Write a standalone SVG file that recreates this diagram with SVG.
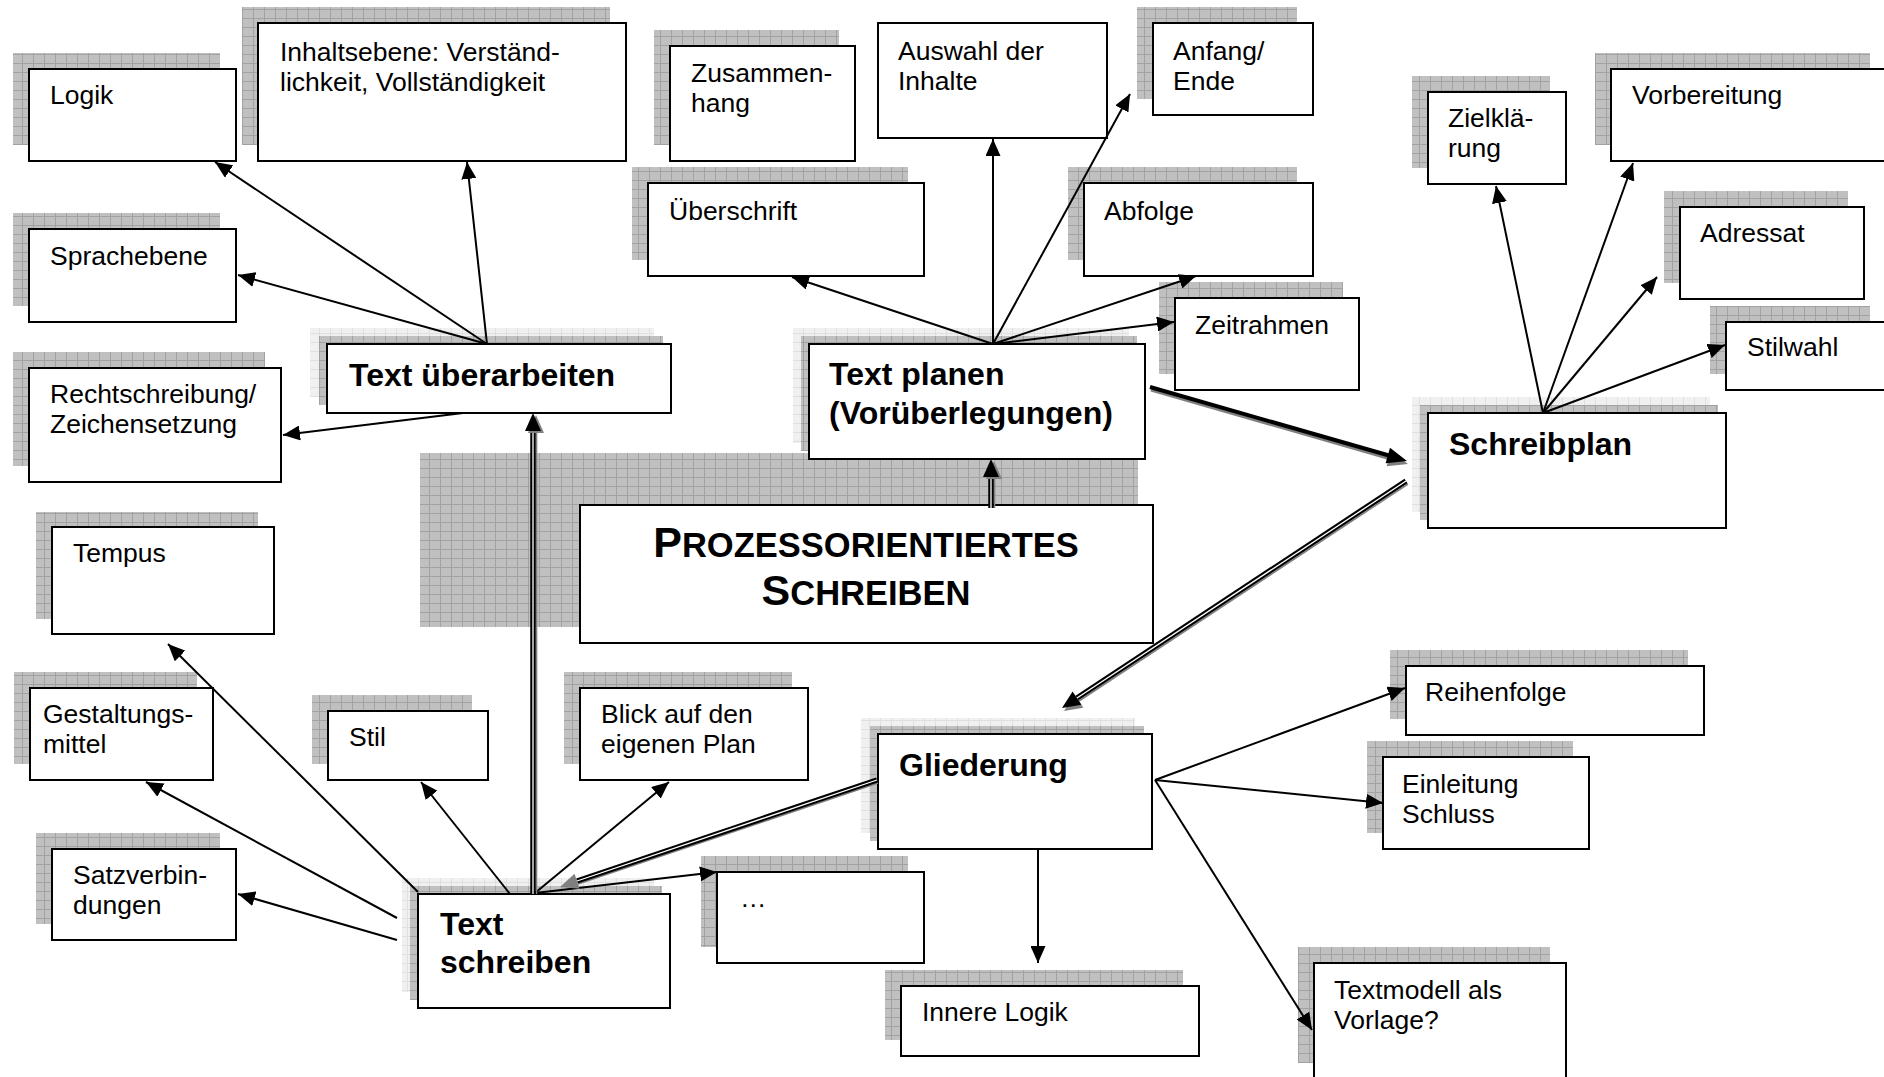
<svg xmlns="http://www.w3.org/2000/svg" width="1884" height="1077" viewBox="0 0 1884 1077">
<defs>
<pattern id="grid" width="11" height="9" patternUnits="userSpaceOnUse">
<rect width="11" height="9" fill="#c0c0c0"/>
<path d="M0 0.5H11M0.5 0V9" stroke="#a2a2a2" stroke-width="1" fill="none"/>
</pattern>
<pattern id="gridL" width="11" height="9" patternUnits="userSpaceOnUse">
<rect width="11" height="9" fill="#f0f0f0"/>
<path d="M0 0.5H11M0.5 0V9" stroke="#e0e0e0" stroke-width="1" fill="none"/>
</pattern>
<marker id="arr" markerUnits="userSpaceOnUse" markerWidth="18" markerHeight="15" refX="17" refY="7.5" orient="auto">
<path d="M0,0 L17,7.5 L0,15 Z" fill="#000"/>
</marker>
</defs>
<style>
.sh{fill:url(#grid)}
.shl{fill:url(#gridL)}
.box{fill:#fff;stroke:#000;stroke-width:2}
.t{font-family:"Liberation Sans",Arial,sans-serif;font-size:26.5px;fill:#000}
.b{font-weight:bold;font-size:32px}
.c{stroke:#000;stroke-width:2;fill:none;marker-end:url(#arr)}
.dg{stroke:#808080;stroke-width:1.6;fill:none}
.dk{stroke:#000;stroke-width:5.5;fill:none}
.dw{stroke:#fff;stroke-width:1.3;fill:none}
</style>
<rect width="1884" height="1077" fill="#fff"/>

<g id="n-prozess">
<rect class="sh" x="420" y="453" width="718" height="174"/>
<rect class="box" x="580" y="505" width="573" height="138"/>
<text class="t b" text-anchor="middle" x="866" y="557"><tspan font-size="43">P</tspan><tspan font-size="34.5">ROZESSORIENTIERTES</tspan></text>
<text class="t b" text-anchor="middle" x="866" y="605"><tspan font-size="43">S</tspan><tspan font-size="34.5">CHREIBEN</tspan></text>
</g>

<g id="n-logik"><rect class="sh" x="13" y="53" width="207" height="92"/><rect class="box" x="29" y="69" width="207" height="92"/><text class="t" x="50" y="104">Logik</text></g>
<g id="n-inhalt"><rect class="sh" x="242" y="7" width="368" height="138"/><rect class="box" x="258" y="23" width="368" height="138"/><text class="t" x="280" y="61">Inhaltsebene: Verständ-</text><text class="t" x="280" y="91">lichkeit, Vollständigkeit</text></g>
<g id="n-sprache"><rect class="sh" x="13" y="213" width="207" height="93"/><rect class="box" x="29" y="229" width="207" height="93"/><text class="t" x="50" y="265">Sprachebene</text></g>
<g id="n-recht"><rect class="sh" x="13" y="352" width="252" height="114"/><rect class="box" x="29" y="368" width="252" height="114"/><text class="t" x="50" y="403">Rechtschreibung/</text><text class="t" x="50" y="433">Zeichensetzung</text></g>
<g id="n-zusammen"><rect class="sh" x="654" y="30" width="185" height="115"/><rect class="box" x="670" y="46" width="185" height="115"/><text class="t" x="691" y="82">Zusammen-</text><text class="t" x="691" y="112">hang</text></g>
<g id="n-auswahl"><rect class="box" x="878" y="23" width="229" height="115"/><text class="t" x="898" y="60">Auswahl der</text><text class="t" x="898" y="90">Inhalte</text></g>
<g id="n-anfang"><rect class="sh" x="1137" y="7" width="160" height="92"/><rect class="box" x="1153" y="23" width="160" height="92"/><text class="t" x="1173" y="60">Anfang/</text><text class="t" x="1173" y="90">Ende</text></g>
<g id="n-ueberschrift"><rect class="sh" x="632" y="167" width="276" height="93"/><rect class="box" x="648" y="183" width="276" height="93"/><text class="t" x="669" y="220">Überschrift</text></g>
<g id="n-abfolge"><rect class="sh" x="1068" y="167" width="229" height="93"/><rect class="box" x="1084" y="183" width="229" height="93"/><text class="t" x="1104" y="220">Abfolge</text></g>
<g id="n-zeit"><rect class="sh" x="1159" y="282" width="184" height="92"/><rect class="box" x="1175" y="298" width="184" height="92"/><text class="t" x="1195" y="334">Zeitrahmen</text></g>
<g id="n-ziel"><rect class="sh" x="1412" y="76" width="138" height="92"/><rect class="box" x="1428" y="92" width="138" height="92"/><text class="t" x="1448" y="127">Zielklä-</text><text class="t" x="1448" y="157">rung</text></g>
<g id="n-vorb"><rect class="sh" x="1595" y="53" width="275" height="92"/><rect class="box" x="1611" y="69" width="275" height="92"/><text class="t" x="1632" y="104">Vorbereitung</text></g>
<g id="n-adressat"><rect class="sh" x="1664" y="191" width="184" height="92"/><rect class="box" x="1680" y="207" width="184" height="92"/><text class="t" x="1700" y="242">Adressat</text></g>
<g id="n-stilwahl"><rect class="sh" x="1710" y="306" width="160" height="68"/><rect class="box" x="1726" y="322" width="160" height="68"/><text class="t" x="1747" y="356">Stilwahl</text></g>
<g id="n-tempus"><rect class="sh" x="36" y="512" width="222" height="107"/><rect class="box" x="52" y="527" width="222" height="107"/><text class="t" x="73" y="562">Tempus</text></g>
<g id="n-gestalt"><rect class="sh" x="14" y="672" width="183" height="92"/><rect class="box" x="30" y="688" width="183" height="92"/><text class="t" x="43" y="723">Gestaltungs-</text><text class="t" x="43" y="753">mittel</text></g>
<g id="n-stil"><rect class="sh" x="312" y="695" width="160" height="69"/><rect class="box" x="328" y="711" width="160" height="69"/><text class="t" x="349" y="746">Stil</text></g>
<g id="n-blick"><rect class="sh" x="564" y="672" width="228" height="92"/><rect class="box" x="580" y="688" width="228" height="92"/><text class="t" x="601" y="723">Blick auf den</text><text class="t" x="601" y="753">eigenen Plan</text></g>
<g id="n-satz"><rect class="sh" x="36" y="833" width="184" height="91"/><rect class="box" x="52" y="849" width="184" height="91"/><text class="t" x="73" y="884">Satzverbin-</text><text class="t" x="73" y="914">dungen</text></g>
<g id="n-etc"><rect class="sh" x="701" y="856" width="207" height="91"/><rect class="box" x="717" y="872" width="207" height="91"/><text class="t" x="740" y="907">…</text></g>
<g id="n-reihen"><rect class="sh" x="1390" y="650" width="298" height="69"/><rect class="box" x="1406" y="666" width="298" height="69"/><text class="t" x="1425" y="701">Reihenfolge</text></g>
<g id="n-einleitung"><rect class="sh" x="1367" y="741" width="206" height="92"/><rect class="box" x="1383" y="757" width="206" height="92"/><text class="t" x="1402" y="793">Einleitung</text><text class="t" x="1402" y="823">Schluss</text></g>
<g id="n-innere"><rect class="sh" x="885" y="970" width="298" height="70"/><rect class="box" x="901" y="986" width="298" height="70"/><text class="t" x="922" y="1021">Innere Logik</text></g>
<g id="n-textmodell"><rect class="sh" x="1298" y="947" width="252" height="116"/><rect class="box" x="1314" y="963" width="252" height="118"/><text class="t" x="1334" y="999">Textmodell als</text><text class="t" x="1334" y="1029">Vorlage?</text></g>

<g id="n-ueberarbeiten"><rect class="shl" x="310" y="328" width="344" height="69"/><rect class="sh" x="319" y="336" width="344" height="69"/><rect class="box" x="327" y="344" width="344" height="69"/><text class="t b" x="349" y="386">Text überarbeiten</text></g>
<g id="n-planen"><rect class="shl" x="793" y="328" width="336" height="115"/><rect class="sh" x="801" y="336" width="336" height="115"/><rect class="box" x="809" y="344" width="336" height="115"/><text class="t b" x="829" y="385">Text planen</text><text class="t b" x="829" y="424">(Vorüberlegungen)</text></g>
<g id="n-schreibplan"><rect class="shl" x="1412" y="397" width="298" height="115"/><rect class="sh" x="1420" y="405" width="298" height="115"/><rect class="box" x="1428" y="413" width="298" height="115"/><text class="t b" x="1449" y="455">Schreibplan</text></g>
<g id="n-gliederung"><rect class="shl" x="861" y="718" width="274" height="115"/><rect class="sh" x="870" y="726" width="274" height="115"/><rect class="box" x="878" y="734" width="274" height="115"/><text class="t b" x="899" y="776">Gliederung</text></g>
<g id="n-schreiben"><rect class="shl" x="402" y="878" width="252" height="114"/><rect class="sh" x="410" y="886" width="252" height="114"/><rect class="box" x="418" y="894" width="252" height="114"/><text class="t b" x="440" y="935">Text</text><text class="t b" x="440" y="973">schreiben</text></g>

<g id="connectors">
<line class="c" x1="487" y1="344" x2="215" y2="162"/>
<line class="c" x1="487" y1="344" x2="467" y2="162"/>
<line class="c" x1="487" y1="344" x2="238" y2="275"/>
<line class="c" x1="463" y1="413" x2="283" y2="435"/>
<line class="c" x1="993" y1="344" x2="792" y2="277"/>
<line class="c" x1="993" y1="344" x2="993" y2="139"/>
<line class="c" x1="993" y1="344" x2="1130" y2="94"/>
<line class="c" x1="993" y1="344" x2="1196" y2="276"/>
<line class="c" x1="993" y1="344" x2="1174" y2="322"/>
<line class="c" x1="1543" y1="413" x2="1496" y2="186"/>
<line class="c" x1="1543" y1="413" x2="1633" y2="163"/>
<line class="c" x1="1543" y1="413" x2="1657" y2="277"/>
<line class="c" x1="1543" y1="413" x2="1725" y2="345"/>
<line class="c" x1="418" y1="892" x2="168" y2="644"/>
<line class="c" x1="397" y1="918" x2="146" y2="782"/>
<line class="c" x1="397" y1="940" x2="238" y2="894"/>
<line class="c" x1="510" y1="894" x2="421" y2="782"/>
<line class="c" x1="535" y1="893" x2="669" y2="782"/>
<line class="c" x1="535" y1="893" x2="717" y2="872"/>
<line class="c" x1="1155" y1="780" x2="1405" y2="688"/>
<line class="c" x1="1155" y1="780" x2="1383" y2="803"/>
<line class="c" x1="1155" y1="780" x2="1312" y2="1030"/>
<line class="c" x1="1038" y1="849" x2="1038" y2="963"/>

<g id="c-prozess-planen">
<line class="dg" x1="994.5" y1="508" x2="994.5" y2="476"/>
<line class="dk" x1="991" y1="508" x2="991" y2="476"/>
<line class="dw" x1="991" y1="508" x2="991" y2="476"/>
<polygon points="991,459 983,477 999,477" fill="#808080" transform="translate(3,2)"/>
<polygon points="991,459 983,477 999,477" fill="#000"/>
</g>
<g id="c-schreiben-ueberarbeiten">
<line class="dg" x1="536.5" y1="894" x2="536.5" y2="430"/>
<line class="dk" x1="533" y1="894" x2="533" y2="430"/>
<line class="dw" x1="533" y1="894" x2="533" y2="430"/>
<polygon points="533,413 525,431 541,431" fill="#808080" transform="translate(3,2)"/>
<polygon points="533,413 525,431 541,431" fill="#000"/>
</g>
<g id="c-schreibplan-gliederung">
<line class="dg" x1="1408" y1="484" x2="1079" y2="701"/>
<line class="dk" x1="1406" y1="481" x2="1077" y2="698"/>
<line class="dw" x1="1406" y1="481" x2="1077" y2="698"/>
<polygon points="1062,708 1081.4,704.8 1072.6,691.4" fill="#808080" transform="translate(2,3)"/>
<polygon points="1062,708 1081.4,704.8 1072.6,691.4" fill="#000"/>
</g>
<g id="c-gliederung-schreiben">
<line class="dg" x1="878" y1="783" x2="578" y2="884"/>
<line class="dk" x1="877" y1="780" x2="577" y2="881"/>
<line class="dw" x1="877" y1="780" x2="577" y2="881"/>
<polygon points="560,887 579.6,888.8 574.5,873.7" fill="#808080"/>
</g>
<g id="c-planen-schreibplan">
<line x1="1151" y1="390" x2="1389" y2="458.5" stroke="#808080" stroke-width="3"/>
<line x1="1150" y1="387" x2="1389" y2="455.5" stroke="#000" stroke-width="4"/>
<polygon points="1407,461 1385.6,463.2 1390,447.8" fill="#808080" transform="translate(1,3)"/>
<polygon points="1407,461 1385.6,463.2 1390,447.8" fill="#000"/>
</g>
</g>
</svg>
